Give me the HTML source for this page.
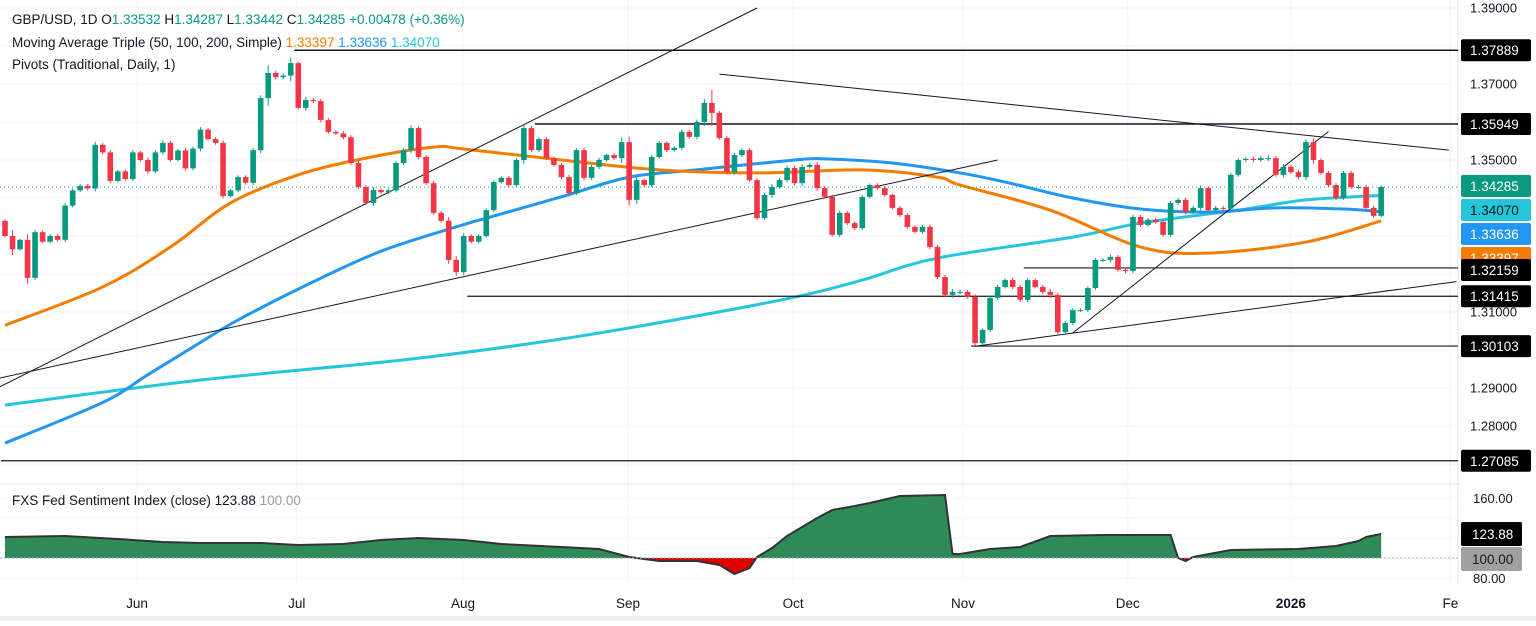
<!DOCTYPE html>
<html><head><meta charset="utf-8">
<style>
html,body{margin:0;padding:0;background:#fff;}
body{width:1536px;height:621px;overflow:hidden;font-family:"Liberation Sans",sans-serif;}
svg text{font-family:"Liberation Sans",sans-serif;}
</style></head>
<body>
<svg id="chart" width="1536" height="621" xmlns="http://www.w3.org/2000/svg">
<g id="grid"></g>
<g id="ind"></g>
<g id="mas"></g>
<g id="lines"></g>
<g id="candles"></g>
<g id="axis"></g>
<g id="legend">
 <text x="12" y="24" font-size="13.5" fill="#131722">GBP/USD, 1D  O<tspan fill="#089981">1.33532</tspan>  H<tspan fill="#089981">1.34287</tspan>  L<tspan fill="#089981">1.33442</tspan>  C<tspan fill="#089981">1.34285</tspan> <tspan fill="#089981">+0.00478 (+0.36%)</tspan></text>
 <text x="12" y="47" font-size="13.5" fill="#131722">Moving Average Triple (50, 100, 200, Simple)  <tspan fill="#f57c00">1.33397</tspan>  <tspan fill="#2196f3">1.33636</tspan>  <tspan fill="#26c6da">1.34070</tspan></text>
 <text x="12" y="69" font-size="13.5" fill="#131722">Pivots (Traditional, Daily, 1)</text>
 <text x="12" y="505" font-size="13.5" fill="#131722">FXS Fed Sentiment Index (close)  123.88  <tspan fill="#9a9a9a">100.00</tspan></text>
</g>
</svg>
<script>
const closes=[1.3300,1.3265,1.3290,1.3190,1.3310,1.3285,1.3300,1.3290,1.3380,1.3420,1.3432,1.3425,1.3540,1.3520,1.3445,1.3470,1.3450,1.3520,1.3500,1.3470,1.3520,1.3545,1.3500,1.3525,1.3478,1.3530,1.3580,1.3555,1.3545,1.3405,1.3420,1.3455,
1.3440,1.3526,1.3663,1.3729,1.3718,1.3722,1.3755,1.3637,1.3658,1.3655,1.3605,1.3574,1.3570,1.3560,1.3492,1.3429,1.3387,1.3421,1.3415,1.3420,1.3492,1.3526,1.3584,1.3508,1.3439,1.3361,1.3340,1.3237,1.3205,1.3300,
1.3285,1.3300,1.3368,1.3442,1.3453,1.3434,1.3500,1.3584,1.3526,1.3555,1.3505,1.3487,1.3455,1.3413,1.3526,1.3453,1.3482,1.3500,1.3513,1.3505,1.3547,1.3395,1.3447,1.3434,1.3508,1.3545,1.3526,1.3532,1.3574,1.3561,1.3600,1.3650,1.3624,1.3558,1.3468,1.3513,1.3526,1.3447,1.3347,1.3408,1.3429,1.3447,1.3479,1.3439,1.3482,1.3487,1.3426,1.3403,1.3303,1.3361,1.3334,1.3321,1.3403,1.3434,1.3426,1.3408,1.3374,1.3355,1.3324,1.3311,1.3324,1.3271,1.3192,1.3145,
1.3153,1.3153,1.3140,1.3018,1.3053,1.3137,1.3166,1.3184,1.3166,1.3132,1.3184,1.3166,1.3153,1.3145,1.3047,1.3071,1.3105,1.3105,1.3163,1.3237,1.3237,1.3245,1.3211,1.3208,1.3350,1.3329,1.3343,1.3337,1.3303,1.3387,1.3395,1.3363,1.3374,1.3426,1.3368,1.3374,1.3372,1.3461,1.3500,1.3503,1.3500,1.3505,1.3505,1.3461,1.3482,1.3468,1.3455,1.3547,1.3500,1.3466,1.3434,1.3400,1.3466,1.3429,1.3429,1.3374,1.3353,1.3429];
const firstOpen=1.3340;
const wickPips=[8,30,6,30,12,8,10,9,12,10,8,10,15,10,12,8,10,12,8,14,10,12,10,8,12,10,14,8,10,12,8,10,
10,12,15,40,12,12,30,8,15,10,12,10,8,12,10,12,10,15,8,10,10,10,15,12,10,12,10,20,20,15,
8,10,8,10,8,10,10,20,12,10,10,8,10,12,10,14,10,12,8,10,25,30,20,8,10,10,10,8,12,10,12,20,70,10,10,12,10,10,10,10,15,10,12,12,14,10,15,10,10,12,10,10,10,8,10,10,8,10,10,8,10,12,10,10,
15,12,10,12,8,10,10,8,12,10,10,8,12,15,10,12,10,10,10,10,10,12,10,12,12,10,8,8,10,10,10,12,10,15,10,10,10,8,10,10,12,10,15,10,15,10,12,15,20,10,10,12,10,10,10,10,10,8];
const ma50Idx=[0,13,22,30,39,48,57,61,74,87,100,114,124,127,139,151,160,173,183];
const ma50Val=[1.3065,1.3166,1.3271,1.3387,1.3461,1.3505,1.3534,1.3529,1.3500,1.3474,1.3466,1.3474,1.3455,1.3434,1.3368,1.3271,1.3255,1.3284,1.3340];
const ma100Idx=[0,13,19,26,31,40,50,61,64,74,83,92,105,109,118,127,133,142,151,160,169,178,183];
const ma100Val=[1.2755,1.2862,1.2935,1.3020,1.3079,1.3170,1.3260,1.3330,1.3347,1.3403,1.3455,1.3474,1.3500,1.3503,1.3492,1.3466,1.3442,1.3400,1.3371,1.3363,1.3374,1.3371,1.3364];
const ma200Idx=[0,26,53,73,89,105,114,124,142,151,164,173,183];
const ma200Val=[1.2855,1.2921,1.2974,1.3026,1.3079,1.3139,1.3184,1.3242,1.3297,1.3334,1.3368,1.3395,1.3407];
const sentIdx=[0,8,15,21,26,34,39,45,50,55,61,66,74,79,83,85,87,92,95,97,99,100,102,104,106,108,110,113,115,119,125,126,127,131,135,139,146,155,156,157,158,163,172,177,180,181,183];
const sentVal=[121,122,119,116,115,115,113,114,118,120,118,114,111,109,101,99,97,97,93,84,90,101,110,122,131,140,148,152,155,162,163,104,104,109,111,122,123,123,100,97,101,108,109,112,117,121,124];
const priceTicks=[1.39,1.37,1.35,1.31,1.29,1.28];
const monthLabels=["Jun","Jul","Aug","Sep","Oct","Nov","Dec","2026","Fe"];
const monthIdx=[17.55,38.8,60.9,82.85,104.8,127.4,149.3,171,192.2];
const pivotLevels=[1.37889,1.35949,1.32159,1.31415,1.30103,1.27085];
const pivotStartIdx=[39,71,136,62,129,0];
const sentTicks=[160,80];

const NS="http://www.w3.org/2000/svg";
const plotR=1458, paneTop=484, paneBot=584;
const X=i=>5+i*7.52;
const Y=p=>160+(1.35-p)*3800;
const YS=v=>558-(v-100)*1.0;
function el(tag,attrs,parent){const e=document.createElementNS(NS,tag);for(const k in attrs)e.setAttribute(k,attrs[k]);parent.appendChild(e);return e;}
const grid=document.getElementById('grid'),candles=document.getElementById('candles'),mas=document.getElementById('mas'),lines=document.getElementById('lines'),axis=document.getElementById('axis'),ind=document.getElementById('ind');

[1.39,1.38,1.37,1.36,1.35,1.34,1.33,1.32,1.31,1.30,1.29,1.28,1.27].forEach(p=>{const l=el('line',{x1:0,x2:plotR,y1:Y(p),y2:Y(p),stroke:'#f0f3fa','stroke-width':1},grid);});
monthIdx.forEach(m=>{const l=el('line',{x1:X(m),x2:X(m),y1:0,y2:paneBot,stroke:'#f0f3fa','stroke-width':1},grid);});
[160,140,120,100,80].forEach(v=>{const l=el('line',{x1:0,x2:plotR,y1:YS(v),y2:YS(v),stroke:'#f0f3fa'},grid);});
let sep=el('line',{x1:0,x2:1536,y1:paneTop,y2:paneTop,stroke:'#e0e3eb','stroke-width':1},grid);


let sep2=el('line',{x1:plotR,x2:plotR,y1:0,y2:paneBot,stroke:'#e0e3eb'},grid);


let bottomBand=el('rect',{x:0,y:616,width:1536,height:5,fill:'#eef0f4'},grid);



const pts=sentIdx.map((d,k)=>[X(d),YS(sentVal[k])]);
const areaD='M'+pts[0][0]+','+YS(100)+' '+pts.map(p=>'L'+p[0]+','+p[1]).join(' ')+' L'+pts[pts.length-1][0]+','+YS(100)+'Z';
const defs=el('defs',{},ind);
const c1=el('clipPath',{id:'above'},defs);el('rect',{x:0,y:0,width:1536,height:YS(100)},c1);
const c2=el('clipPath',{id:'below'},defs);el('rect',{x:0,y:YS(100),width:1536,height:100},c2);
let ga=el('path',{d:areaD,fill:'#2e8b57','clip-path':'url(#above)'},ind);


let ra=el('path',{d:areaD,fill:'#e00000','clip-path':'url(#below)'},ind);


let sl=el('polyline',{points:pts.map(p=>p.join(',')).join(' '),fill:'none',stroke:'#333','stroke-width':2},ind);


let bl=el('line',{x1:0,x2:plotR,y1:YS(100),y2:YS(100),stroke:'#9aa','stroke-dasharray':'2,2'},ind);



function smoothPath(P){let d='M'+P[0][0]+','+P[0][1];for(let i=0;i<P.length-1;i++){const p0=P[Math.max(0,i-1)],p1=P[i],p2=P[i+1],p3=P[Math.min(P.length-1,i+2)];const c1x=p1[0]+(p2[0]-p0[0])/6,c1y=p1[1]+(p2[1]-p0[1])/6,c2x=p2[0]-(p3[0]-p1[0])/6,c2y=p2[1]-(p3[1]-p1[1])/6;d+=' C'+c1x+','+c1y+' '+c2x+','+c2y+' '+p2[0]+','+p2[1];}return d;}
function maLine(idx,val,color,name){const P=idx.map((v,k)=>[X(v),Y(val[k])]);const l=el('path',{d:smoothPath(P),fill:'none',stroke:color,'stroke-width':3,'stroke-linejoin':'round'},mas);}
maLine(ma200Idx,ma200Val,'#26c6da','ma200-line');
maLine(ma100Idx,ma100Val,'#2196f3','ma100-line');
maLine(ma50Idx,ma50Val,'#f57c00','ma50-line');

pivotLevels.forEach((p,k)=>{const l=el('line',{x1:X(pivotStartIdx[k])-4,x2:plotR,y1:Y(p),y2:Y(p),stroke:'#131722','stroke-width':k<2?1.5:1.2},lines);});
const trends=[[-1,1.2900,100,1.3900],[-1,1.2925,132,1.3500],[95,1.3726,192,1.3526],[129,1.3010,193,1.3180],[142,1.3045,176,1.3575]];
trends.forEach(t=>{const l=el('line',{x1:X(t[0]),y1:Y(t[1]),x2:Math.min(X(t[2]),plotR),y2:Y(t[3]),stroke:'#131722','stroke-width':1},lines);});
let dl=el('line',{x1:0,x2:plotR,y1:Y(1.34285),y2:Y(1.34285),stroke:'#089981','stroke-dasharray':'1,3'},lines);



closes.forEach((c,i)=>{
 const o=i===0?firstOpen:closes[i-1];
 const w=wickPips[i]/10000;
 const hi=Math.max(o,c)+w*0.5, lo=Math.min(o,c)-w*0.5;
 const col=c>=o?'#089981':'#f23645';
 const g=el('g',{},candles);
 
 
 el('line',{x1:X(i),x2:X(i),y1:Y(hi),y2:Y(lo),stroke:col,'stroke-width':1},g);
 const y1=Y(Math.max(o,c)),h=Math.max(1,Y(Math.min(o,c))-y1);
 el('rect',{x:X(i)-2.8,y:y1,width:5.6,height:h,fill:col},g);
});

el('rect',{x:plotR+1,y:0,width:1536-plotR,height:paneBot,fill:'#fff'},axis);
priceTicks.forEach(p=>{const t=el('text',{x:1470,y:Y(p)+4.5,'font-size':13,fill:'#131722'},axis);t.textContent=p.toFixed(5);});
const boxes=[[1.37889,'#000','#fff'],[1.35949,'#000','#fff'],[1.34285,'#089981','#fff'],[1.34070,'#26c6da','#131722'],[1.33636,'#2196f3','#fff'],[1.33397,'#f57c00','#fff'],[1.32159,'#000','#fff'],[1.31415,'#000','#fff'],[1.30103,'#000','#fff'],[1.27085,'#000','#fff']];
const boxY={1.34285:186,1.34070:210,1.33636:234,1.33397:258,1.32159:270};
boxes.forEach(b=>{const cy=boxY[b[0]]||Y(b[0]);const g=el('g',{},axis);
 el('rect',{x:1461,y:cy-11,width:70,height:22,rx:2,fill:b[1]},g);
 const t=el('text',{x:1470,y:cy+5,'font-size':13.5,fill:b[2]},g);t.textContent=b[0].toFixed(5);});
sentTicks.forEach(v=>{const t=el('text',{x:1473,y:YS(v)+5,'font-size':13,fill:'#131722'},axis);t.textContent=v.toFixed(2);});
[[123.88,'#000','#fff',534],[100,'#a0a0a0','#131722',559]].forEach(b=>{const g=el('g',{},axis);
 el('rect',{x:1461,y:b[3]-12,width:61,height:24,rx:2,fill:b[1]},g);
 const t=el('text',{x:1472,y:b[3]+5,'font-size':13.5,fill:b[2]},g);t.textContent=b[0].toFixed(2);});
monthLabels.forEach((m,k)=>{const t=el('text',{x:X(monthIdx[k]),y:608,'font-size':13.5,fill:'#131722','text-anchor':'middle','font-weight':m==='2026'?'bold':'normal'},axis);t.textContent=m;});
</script>
</body></html>
